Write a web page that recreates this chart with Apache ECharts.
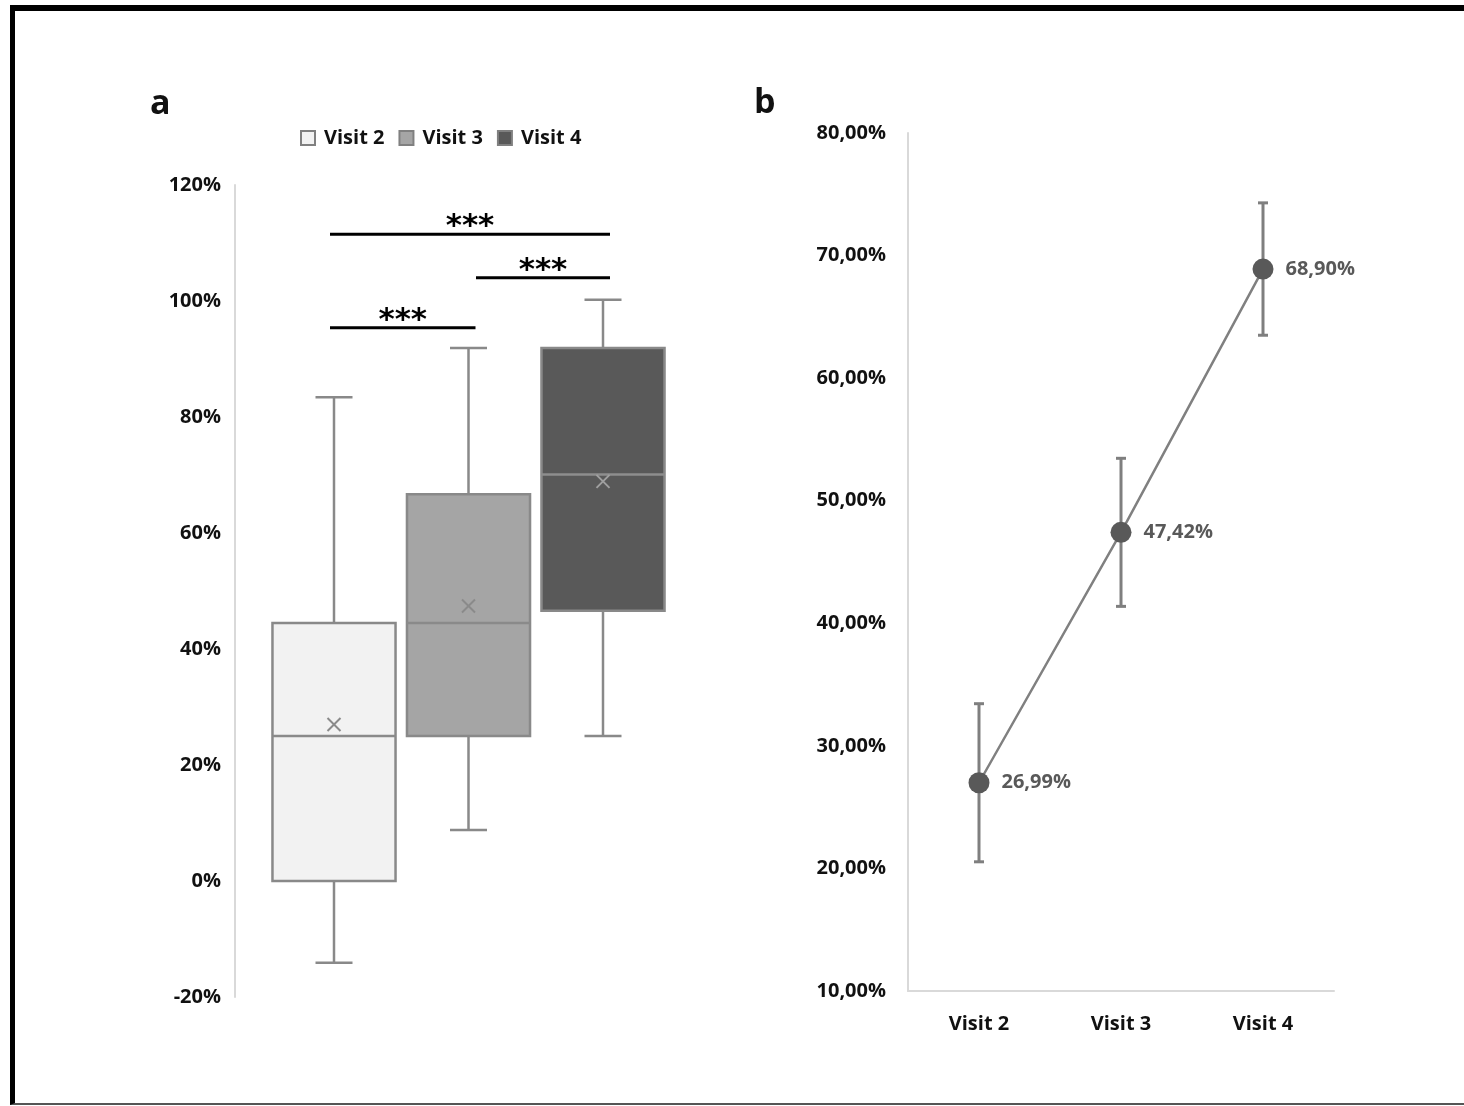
<!DOCTYPE html>
<html>
<head>
<meta charset="utf-8">
<script src="https://cdn.jsdelivr.net/npm/echarts@6/dist/echarts.min.js"></script>
<style>
  html, body { margin: 0; padding: 0; background: #fff; }
  #chart { position: absolute; left: 0; top: 0; width: 1464px; height: 1106px; }
  #frame { position: absolute; left: 10px; top: 5px; right: 0; bottom: 1px; box-sizing: border-box;
           border-top: 6px solid #000; border-left: 5px solid #000; border-bottom: 2px solid #555;
           pointer-events: none; }
</style>
</head>
<body>
<div id="chart"></div>
<div id="frame"></div>
<script>
// ---------- Data: panel a (box plots) ----------
const visits = ['Visit 2', 'Visit 3', 'Visit 4'];
const whiskerLow  = [-14.1, 8.8, 25.0];
const quart1      = [0.0, 25.0, 46.6];
const medians     = [25.0, 44.5, 70.1];
const quart3      = [44.5, 66.7, 91.9];
const whiskerHigh = [83.4, 91.9, 100.2];
const boxMeans    = [26.99, 47.42, 68.90];
const axisATicks  = { min: -20, max: 120, interval: 20 };

// significance brackets
const bracketStart = [0, 1, 0];
const bracketEnd   = [2, 2, 1];
const bracketLevel = [111.5, 104.0, 95.4];
const bracketText  = ['***', '***', '***'];

// ---------- Data: panel b (means with error bars) ----------
const meanValues = [26.99, 47.42, 68.90];
const errorHalf  = [6.45, 6.04, 5.40];
const axisBTicks = { min: 10, max: 80, interval: 10 };

// ---------- Styles ----------
const FONT = 'Open Sans';
const boxFill = ['#f2f2f2', '#a5a5a5', '#595959'];
const boxStroke = '#898989';
const meanMarkColor = ['#8a8a8a', '#8a8a8a', '#a0a0a0'];
const medianColor = ['#8a8a8a', '#8a8a8a', '#8e8e8e'];

function boxRender(params, api) {
  const c = api.value(0);
  const pLow = api.coord([c, api.value(1)]);
  const pQ1 = api.coord([c, api.value(2)]);
  const pMed = api.coord([c, api.value(3)]);
  const pQ3 = api.coord([c, api.value(4)]);
  const pHigh = api.coord([c, api.value(5)]);
  const pMean = api.coord([c, api.value(6)]);
  const band = api.size([1, 0])[0];
  const bw = band * 0.915;
  const cap = 37;
  const x = pQ1[0];
  const si = params.seriesIndex;
  const ls = { stroke: boxStroke, lineWidth: 2.5 };
  const m = 6.5;
  return {
    type: 'group',
    children: [
      { type: 'line', shape: { x1: x, y1: pQ3[1], x2: x, y2: pHigh[1] }, style: ls },
      { type: 'line', shape: { x1: x - cap / 2, y1: pHigh[1], x2: x + cap / 2, y2: pHigh[1] }, style: ls },
      { type: 'line', shape: { x1: x, y1: pQ1[1], x2: x, y2: pLow[1] }, style: ls },
      { type: 'line', shape: { x1: x - cap / 2, y1: pLow[1], x2: x + cap / 2, y2: pLow[1] }, style: ls },
      { type: 'rect', shape: { x: x - bw / 2, y: pQ3[1], width: bw, height: pQ1[1] - pQ3[1] },
        style: { fill: boxFill[si], stroke: boxStroke, lineWidth: 2.5 } },
      { type: 'line', shape: { x1: x - bw / 2, y1: pMed[1], x2: x + bw / 2, y2: pMed[1] },
        style: { stroke: medianColor[si], lineWidth: 2.5 } },
      { type: 'line', shape: { x1: pMean[0] - m, y1: pMean[1] - m, x2: pMean[0] + m, y2: pMean[1] + m },
        style: { stroke: meanMarkColor[si], lineWidth: 2 } },
      { type: 'line', shape: { x1: pMean[0] - m, y1: pMean[1] + m, x2: pMean[0] + m, y2: pMean[1] - m },
        style: { stroke: meanMarkColor[si], lineWidth: 2 } }
    ]
  };
}

const boxSeries = visits.map(function (v, i) {
  return {
    name: v,
    type: 'custom',
    xAxisIndex: 0,
    yAxisIndex: 0,
    renderItem: boxRender,
    encode: { x: 0, y: [1, 2, 3, 4, 5, 6] },
    itemStyle: { color: boxFill[i], borderColor: boxStroke, borderWidth: 2 },
    data: [[i, whiskerLow[i], quart1[i], medians[i], quart3[i], whiskerHigh[i], boxMeans[i]]],
    z: 2
  };
});

const bracketSeries = {
  type: 'custom',
  name: 'brackets',
  xAxisIndex: 0,
  yAxisIndex: 0,
  silent: true,
  encode: { x: [0, 1], y: 2 },
  data: bracketStart.map(function (s, i) { return [s, bracketEnd[i], bracketLevel[i], i]; }),
  renderItem: function (params, api) {
    const s = api.value(0), e = api.value(1), lv = api.value(2);
    const idx = api.value(3);
    const p0 = api.coord([s, lv]);
    const p1 = api.coord([e, lv]);
    const x0 = p0[0] + (s === 0 ? -4 : 7.5);
    const x1 = p1[0] + 7;
    return {
      type: 'group',
      children: [
        { type: 'line', shape: { x1: x0, y1: p0[1], x2: x1, y2: p0[1] },
          style: { stroke: '#000', lineWidth: 3 } },
        { type: 'text', x: (x0 + x1) / 2, y: p0[1] - 7,
          style: { text: bracketText[idx], fill: '#000', font: 'bold 31px "DejaVu Sans"',
                   align: 'center', verticalAlign: 'middle' } }
      ]
    };
  },
  z: 3
};

const errorSeries = {
  type: 'custom',
  name: 'error',
  xAxisIndex: 1,
  yAxisIndex: 1,
  silent: true,
  encode: { x: 0, y: [1, 2] },
  data: meanValues.map(function (v, i) { return [i, v - errorHalf[i], v + errorHalf[i]]; }),
  renderItem: function (params, api) {
    const c = api.value(0);
    const lo = api.coord([c, api.value(1)]);
    const hi = api.coord([c, api.value(2)]);
    const x = lo[0];
    const st = { stroke: '#7f7f7f', lineWidth: 3 };
    return {
      type: 'group',
      children: [
        { type: 'line', shape: { x1: x, y1: lo[1], x2: x, y2: hi[1] }, style: st },
        { type: 'line', shape: { x1: x - 5, y1: lo[1], x2: x + 5, y2: lo[1] }, style: st },
        { type: 'line', shape: { x1: x - 5, y1: hi[1], x2: x + 5, y2: hi[1] }, style: st }
      ]
    };
  },
  z: 1
};

const lineSeries = {
  type: 'line',
  name: 'mean',
  xAxisIndex: 1,
  yAxisIndex: 1,
  data: meanValues,
  symbol: 'circle',
  symbolSize: 21,
  lineStyle: { color: '#808080', width: 2.5 },
  itemStyle: { color: '#595959' },
  label: {
    show: true, position: 'right', distance: 12,
    color: '#595959', fontFamily: FONT, fontWeight: 'bold', fontSize: 20,
    formatter: function (p) { return p.value.toFixed(2).replace('.', ',') + '%'; }
  },
  z: 3
};

const axisLabelStyle = { color: '#111', fontFamily: FONT, fontWeight: 'bold', fontSize: 20 };

const option = {
  animation: false,
  backgroundColor: '#fff',
  title: [
    { text: 'a', left: 145, top: 82, textStyle: { fontFamily: FONT, fontWeight: 'bold', fontSize: 34, color: '#111' } },
    { text: 'b', left: 749, top: 81, textStyle: { fontFamily: FONT, fontWeight: 'bold', fontSize: 34, color: '#111' } }
  ],
  legend: {
    left: 295, top: 123,
    icon: 'rect', itemWidth: 14, itemHeight: 14, itemGap: 14,
    textStyle: { color: '#111', fontFamily: FONT, fontWeight: 'bold', fontSize: 20, padding: [0, 0, 0, 4] },
    data: visits.map(function (v, i) {
      return { name: v, itemStyle: { color: boxFill[i], borderColor: '#808080', borderWidth: 2 } };
    })
  },
  grid: [
    { left: 266.75, width: 403.5, top: 185, bottom: 109 },
    { left: 908, right: 130, top: 133, bottom: 115 }
  ],
  xAxis: [
    { type: 'category', gridIndex: 0, data: visits, boundaryGap: true, show: false },
    { type: 'category', gridIndex: 1, data: visits, boundaryGap: true,
      axisLine: { lineStyle: { color: '#d9d9d9', width: 2 } },
      axisTick: { show: false },
      axisLabel: Object.assign({ margin: 23 }, axisLabelStyle) }
  ],
  yAxis: [
    { type: 'value', gridIndex: 0, min: axisATicks.min, max: axisATicks.max, interval: axisATicks.interval,
      offset: 31.75,
      axisLine: { show: true, lineStyle: { color: '#d9d9d9', width: 2 } },
      axisTick: { show: false }, splitLine: { show: false },
      axisLabel: Object.assign({ margin: 14, formatter: function (v) { return v + '%'; } }, axisLabelStyle) },
    { type: 'value', gridIndex: 1, min: axisBTicks.min, max: axisBTicks.max, interval: axisBTicks.interval,
      axisLine: { show: true, lineStyle: { color: '#d9d9d9', width: 2 } },
      axisTick: { show: false }, splitLine: { show: false },
      axisLabel: Object.assign({ margin: 22, formatter: function (v) { return v.toFixed(2).replace('.', ',') + '%'; } }, axisLabelStyle) }
  ],
  series: boxSeries.concat([bracketSeries, errorSeries, lineSeries])
};

const chart = echarts.init(document.getElementById('chart'), null, { renderer: 'canvas' });
chart.setOption(option);
</script>
</body>
</html>
